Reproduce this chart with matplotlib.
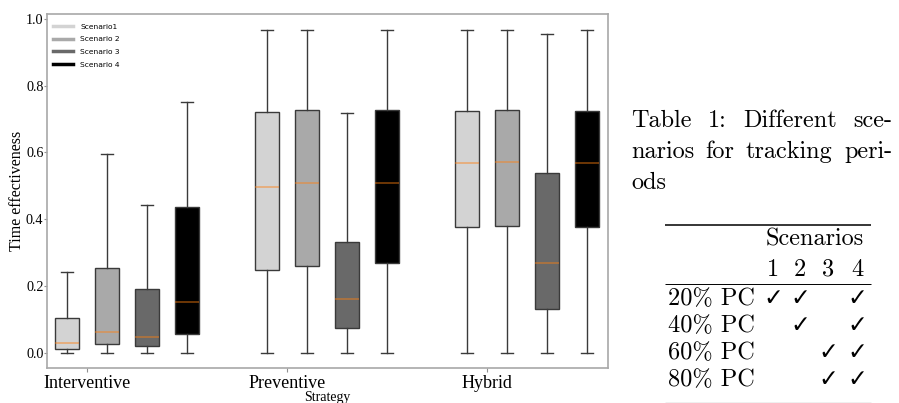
import matplotlib
matplotlib.use("Agg")
import matplotlib.pyplot as plt
from matplotlib.lines import Line2D

# ---- data -------------------------------------------------------------
strategies = ["Interventive", "Preventive", "Hybrid"]
scenarios = ["Scenario1", "Scenario 2", "Scenario 3", "Scenario 4"]
scenario_colors = ["lightgray", "darkgray", "dimgray", "black"]

# box statistics, indexed [scenario][strategy]
medians = [
    [0.030, 0.497, 0.567],
    [0.063, 0.508, 0.571],
    [0.046, 0.160, 0.269],
    [0.153, 0.508, 0.567],
]
q1 = [
    [0.010, 0.249, 0.378],
    [0.025, 0.261, 0.380],
    [0.021, 0.073, 0.130],
    [0.055, 0.270, 0.378],
]
q3 = [
    [0.103, 0.720, 0.724],
    [0.254, 0.727, 0.727],
    [0.190, 0.331, 0.538],
    [0.436, 0.727, 0.724],
]
whisker_hi = [
    [0.241, 0.966, 0.966],
    [0.596, 0.966, 0.966],
    [0.444, 0.717, 0.956],
    [0.751, 0.966, 0.966],
]
whisker_lo = [
    [0.0, 0.0, 0.0],
    [0.0, 0.0, 0.0],
    [0.0, 0.0, 0.0],
    [0.0, 0.0, 0.0],
]

# table of tracking periods
caption_lines = [
    ["Table", "1:", "Different", "sce-"],
    ["narios", "for", "tracking", "peri-"],
    ["ods"],
]
table_header = "Scenarios"
table_columns = ["1", "2", "3", "4"]
table_rows = ["20% PC", "40% PC", "60% PC", "80% PC"]
table_checks = [
    [1, 1, 0, 1],
    [0, 1, 0, 1],
    [0, 0, 1, 1],
    [0, 0, 1, 1],
]

# ---- figure -----------------------------------------------------------
W, H = 899, 403
fig = plt.figure(figsize=(W / 100, H / 100), dpi=100)
ax = fig.add_axes([47 / W, (H - 368) / H, (608 - 47) / W, (368 - 14) / H])

group_step = 5.0
offsets = [-0.5, 0.5, 1.5, 2.5]

stats, positions, colors = [], [], []
for s in range(len(scenarios)):
    for g in range(len(strategies)):
        stats.append(dict(med=medians[s][g], q1=q1[s][g], q3=q3[s][g],
                          whislo=whisker_lo[s][g], whishi=whisker_hi[s][g],
                          fliers=[]))
        positions.append(g * group_step + offsets[s])
        colors.append(scenario_colors[s])

line_col = "#3a3a3a"
bp = ax.bxp(stats, positions=positions, widths=0.6, patch_artist=True,
            showfliers=False,
            boxprops=dict(edgecolor=line_col, linewidth=1.0),
            whiskerprops=dict(color=line_col, linewidth=1.0),
            capprops=dict(color=line_col, linewidth=1.0),
            medianprops=dict(color="#ff7f0e", linewidth=1.2, alpha=0.5))
for patch, c in zip(bp["boxes"], colors):
    patch.set_facecolor(c)

ax.set_xlim(-1.0, 13.03)
ax.set_ylim(-0.046, 1.015)
ax.set_xticks([g * group_step for g in range(len(strategies))])
ax.set_xticklabels(strategies, family="Liberation Serif", fontsize=13)
ax.set_yticks([0.0, 0.2, 0.4, 0.6, 0.8, 1.0])
ax.set_yticklabels(["0.0", "0.2", "0.4", "0.6", "0.8", "1.0"],
                   family="Liberation Serif", fontsize=10.2)
ax.tick_params(axis="y", length=2.2, width=0.8, color="#909090", pad=0.4)
ax.tick_params(axis="x", length=3, width=0.8, color="#909090", pad=2)
for sp in ax.spines.values():
    sp.set_color("#a8a8a8")
    sp.set_linewidth(1.2)

ax.set_ylabel("Time effectiveness", family="Liberation Serif", fontsize=11.5,
              labelpad=0.5)
ax.set_xlabel("Strategy", family="Liberation Serif", fontsize=10, labelpad=-0.5)

handles = [Line2D([], [], color=c, lw=2.5) for c in scenario_colors]
ax.legend(handles, scenarios, loc="upper left", frameon=False, fontsize=5.4,
          handlelength=2.7, handletextpad=0.9, labelspacing=0.85,
          borderaxespad=0, borderpad=0,
          bbox_to_anchor=(0.0107, 0.973))

# ---- table on the right ----------------------------------------------
tax = fig.add_axes([0, 0, 1, 1])
tax.set_xlim(0, W)
tax.set_ylim(H, 0)
tax.axis("off")

cm_font = ["cmr10", "DejaVu Sans"]
fs = 17.5
renderer = fig.canvas.get_renderer()

# justified caption: words spread over the full text width, last line ragged
text_left, text_right = 631, 892
caption_y = [127, 158, 189]
for li, (words, y) in enumerate(zip(caption_lines, caption_y)):
    arts = [tax.text(0, y, w, family=cm_font, fontsize=fs, ha="left",
                     va="baseline") for w in words]
    widths = [a.get_window_extent(renderer).width for a in arts]
    last = li == len(caption_lines) - 1
    if last or len(words) == 1:
        gap = 0.33 * fs * 100 / 72
    else:
        gap = (text_right - text_left - sum(widths)) / (len(words) - 1)
    x = text_left
    for a, w in zip(arts, widths):
        a.set_x(x)
        x += w + gap

rule_x0, rule_x1 = 665, 871
tax.plot([rule_x0, rule_x1], [225, 225], color="black", lw=1.1,
         solid_capstyle="butt")
tax.plot([rule_x0, rule_x1], [284, 284], color="black", lw=0.7,
         solid_capstyle="butt")
tax.plot([rule_x0, rule_x1], [402.6, 402.6], color="#b0b0b0", lw=1.0,
         solid_capstyle="butt")

col_x = [773, 800, 828, 857]
tax.text(815, 246, table_header, family=cm_font, fontsize=fs, ha="center",
         va="baseline")
for c, x in zip(table_columns, col_x):
    tax.text(x, 275.5, c, family=cm_font, fontsize=fs, ha="center",
             va="baseline")

row_y = [305, 332, 359, 386]
for label, checks, y in zip(table_rows, table_checks, row_y):
    tax.text(668, y, label, family=cm_font, fontsize=fs, ha="left",
             va="baseline")
    for flag, x in zip(checks, col_x):
        if flag:
            tax.text(x, y, "\u2713", family="DejaVu Sans", fontsize=17,
                     ha="center", va="baseline")

fig.savefig("out.png", dpi=100)
